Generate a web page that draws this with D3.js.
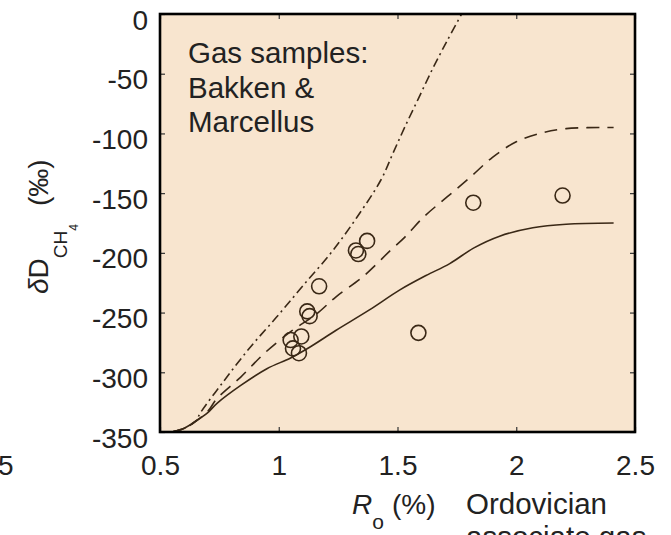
<!DOCTYPE html>
<html>
<head>
<meta charset="utf-8">
<script src="https://cdn.jsdelivr.net/npm/d3@7/dist/d3.min.js"></script>
<style>
  html, body { margin: 0; padding: 0; background: #ffffff; }
  svg { display: block; }
  text { font-family: "Liberation Sans", Arial, Helvetica, sans-serif; fill: #222; }
</style>
</head>
<body>
<script>
// ---- data ----
const xTicks = [0.5, 1, 1.5, 2, 2.5];
const xTickLabels = ["0.5", "1", "1.5", "2", "2.5"];
const yTicks = [0, -50, -100, -150, -200, -250, -300, -350];
const yTickLabels = ["0", "-50", "-100", "-150", "-200", "-250", "-300", "-350"];

const solidX = [0.55, 0.6, 0.65, 0.7, 0.74, 0.84, 0.95, 1.05, 1.13, 1.24, 1.38, 1.51, 1.62, 1.72, 1.82, 1.93, 2.07, 2.21, 2.41];
const solidY = [-350, -347, -341, -334, -326, -311, -297, -288, -279, -265, -248, -231, -219, -209, -196, -186, -179, -176, -175];

const dashedX = [0.55, 0.6, 0.65, 0.7, 0.74, 0.84, 0.94, 1.05, 1.16, 1.24, 1.36, 1.47, 1.53, 1.61, 1.71, 1.81, 1.90, 2.0, 2.1, 2.21, 2.41];
const dashedY = [-350, -347, -341, -333, -322, -304, -284, -266, -251, -237, -219, -198, -187, -170, -153, -136, -120, -107, -100, -96, -95];

const dashDotX = [0.55, 0.6, 0.65, 0.67, 0.77, 0.88, 0.99, 1.10, 1.22, 1.33, 1.43, 1.48, 1.53, 1.59, 1.65, 1.71, 1.77];
const dashDotY = [-350, -347, -341, -334, -307, -279, -254, -228, -200, -170, -139, -117, -95, -70, -45, -22, 0];

const sampleX = [1.05, 1.06, 1.095, 1.085, 1.12, 1.13, 1.17, 1.325, 1.335, 1.372, 1.588, 1.819, 2.195];
const sampleY = [-273, -280, -270, -284, -249, -253, -228, -198, -201, -190, -267, -158, -152];

// ---- layout ----
const W = 671, H = 535;
const L = 160, R = 635, T = 14, B = 432;
const ink = "#3a2816";

const svg = d3.select("body").append("svg").attr("width", W).attr("height", H);

const x = d3.scaleLinear().domain([0.5, 2.5]).range([L, R]);
const y = d3.scaleLinear().domain([-350, 0]).range([B, T]);

// plot background
svg.append("rect").attr("x", L).attr("y", T).attr("width", R - L).attr("height", B - T)
  .attr("fill", "#f8e5cf");

// axes (inward ticks)
const fs = 28;
const fs2 = 29.5;
const gx = svg.append("g").attr("transform", `translate(0,${B})`)
  .call(d3.axisBottom(x).tickValues(xTicks).tickSizeInner(-5).tickSizeOuter(0)
    .tickFormat((d, i) => xTickLabels[i]));
gx.selectAll("text").attr("y", 43).attr("dy", 0).style("font-size", fs + "px").attr("fill", "#222");

const gy = svg.append("g").attr("transform", `translate(${L},0)`)
  .call(d3.axisLeft(y).tickValues(yTicks).tickSizeInner(-5).tickSizeOuter(0)
    .tickFormat((d, i) => yTickLabels[i]));
gy.selectAll("text").attr("x", -12).attr("dy", 15).style("font-size", fs + "px").attr("fill", "#222");

const gt = svg.append("g").attr("transform", `translate(0,${T})`)
  .call(d3.axisTop(x).tickValues(xTicks).tickSizeInner(-5).tickSizeOuter(0).tickFormat(""));
const gr = svg.append("g").attr("transform", `translate(${R},0)`)
  .call(d3.axisRight(y).tickValues(yTicks).tickSizeInner(-5).tickSizeOuter(0).tickFormat(""));

[gx, gy, gt, gr].forEach(g => {
  g.select(".domain").remove();
  g.selectAll(".tick line").attr("stroke", "#333").attr("stroke-width", 1.2);
});

// curves
const line = d3.line().x(d => x(d[0])).y(d => y(d[1])).curve(d3.curveCatmullRom.alpha(0.5));
const zip = (a, b) => a.map((v, i) => [v, b[i]]);

svg.append("path").attr("d", line(zip(solidX, solidY)))
  .attr("fill", "none").attr("stroke", ink).attr("stroke-width", 1.6);
svg.append("path").attr("d", line(zip(dashedX, dashedY)))
  .attr("fill", "none").attr("stroke", ink).attr("stroke-width", 1.6)
  .attr("stroke-dasharray", "13,8");
svg.append("path").attr("d", line(zip(dashDotX, dashDotY)))
  .attr("fill", "none").attr("stroke", ink).attr("stroke-width", 1.6)
  .attr("stroke-dasharray", "9,4,2,4");

// samples
svg.append("g").selectAll("circle").data(zip(sampleX, sampleY)).join("circle")
  .attr("cx", d => x(d[0])).attr("cy", d => y(d[1])).attr("r", 7.5)
  .attr("fill", "none").attr("stroke", ink).attr("stroke-width", 1.6);

// frame
svg.append("rect").attr("x", L).attr("y", T).attr("width", R - L).attr("height", B - T)
  .attr("fill", "none").attr("stroke", "#000").attr("stroke-width", 2.6);

// annotation
const ann = svg.append("text").style("font-size", fs2 + "px");
["Gas samples:", "Bakken &", "Marcellus"].forEach((s, i) => {
  ann.append("tspan").attr("x", 188).attr("y", 63 + i * 34.5).text(s);
});

// y axis title
const yt = svg.append("text").attr("transform", "translate(48,294) rotate(-90)")
  .attr("x", 0).attr("y", 0).style("font-size", fs + "px");
yt.append("tspan").style("font-style", "italic").text("δ");
yt.append("tspan").text("D");
yt.append("tspan").attr("dy", 19).style("font-size", "19px").text("CH");
yt.append("tspan").attr("dy", 11).style("font-size", "12px").text("4");
yt.append("tspan").attr("dy", -30).attr("dx", 18).style("font-size", fs + "px").text("(‰)");

// x axis title
const xt = svg.append("text").attr("x", 352).attr("y", 514).style("font-size", fs + "px");
xt.append("tspan").style("font-style", "italic").text("R");
xt.append("tspan").attr("dy", 15).style("font-size", "21px").text("o");
xt.append("tspan").attr("dy", -15).attr("dx", 8).text("(%)");

// other clipped labels
svg.append("text").attr("x", -6).attr("y", 475).attr("text-anchor", "middle")
  .style("font-size", fs + "px").text("0.5");
svg.append("text").attr("x", 466).attr("y", 514).style("font-size", fs2 + "px").text("Ordovician");
svg.append("text").attr("x", 466).attr("y", 547).style("font-size", fs2 + "px").text("associate gas");
</script>
</body>
</html>
